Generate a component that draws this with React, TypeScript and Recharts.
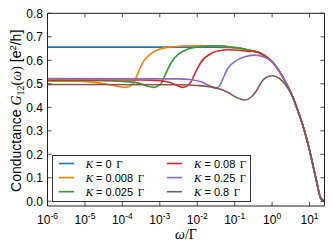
import React from "react";
import { LineChart, Line, XAxis, YAxis, Legend, Label } from "recharts";

// log10(omega / Gamma) on x, conductance G12 in e^2/h on y
const kLabels = ["0", "0.008", "0.025", "0.08", "0.25", "0.8"];
const colors = ["#1f77b4", "#ff7f0e", "#2ca02c", "#d62728", "#9467bd", "#8c564b"];

// common high-frequency roll-off that every curve joins
const envelopeX = [-1, -0.75, -0.5, -0.34, -0.2, 0, 0.2, 0.4, 0.55, 0.7, 0.82, 1.0, 1.17, 1.3, 1.39];
const envelopeG = [0.654, 0.648, 0.639, 0.632, 0.62, 0.595, 0.552, 0.495, 0.445, 0.38, 0.324, 0.218, 0.098, 0.013, 0];

const k0X = [-6, -2, -1.5];
const k0G = [0.656, 0.656, 0.656];

const k008X = [-6, -5.2, -4.8, -4.4, -4.1, -3.93, -3.8, -3.7, -3.57, -3.44, -3.26, -3.0, -2.64, -2.2, -1.6];
const k008G = [0.512, 0.511, 0.507, 0.498, 0.488, 0.485, 0.49, 0.505, 0.551, 0.594, 0.625, 0.648, 0.658, 0.662, 0.662];

const k025X = [-6, -4.5, -4.0, -3.6, -3.35, -3.17, -3.05, -2.95, -2.82, -2.68, -2.51, -2.24, -1.9, -1.4];
const k025G = [0.513, 0.513, 0.51, 0.504, 0.491, 0.485, 0.49, 0.505, 0.551, 0.594, 0.625, 0.648, 0.658, 0.662];

const k08X = [-6, -3.5, -3.0, -2.7, -2.5, -2.39, -2.28, -2.17, -2.04, -1.89, -1.62, -1.4, -1.18, -0.9, -0.6];
const k08G = [0.516, 0.516, 0.513, 0.504, 0.49, 0.485, 0.49, 0.508, 0.551, 0.594, 0.63, 0.641, 0.645, 0.643, 0.638];

const k25X = [-6, -2.5, -2.2, -1.9, -1.7, -1.49, -1.4, -1.31, -1.18, -1.0, -0.73, -0.47, -0.2, 0];
const k25G = [0.522, 0.521, 0.518, 0.509, 0.494, 0.48, 0.492, 0.523, 0.566, 0.594, 0.615, 0.622, 0.613, 0.593];

const k8X = [-6, -2.5, -2, -1.5, -1.2, -0.95, -0.73, -0.55, -0.4, -0.25, -0.1, 0.02, 0.2, 0.37];
const k8G = [0.497, 0.496, 0.493, 0.483, 0.465, 0.442, 0.431, 0.445, 0.475, 0.515, 0.531, 0.534, 0.522, 0.494];

const heads: [number[], number[]][] = [
  [k0X, k0G],
  [k008X, k008G],
  [k025X, k025G],
  [k08X, k08G],
  [k25X, k25G],
  [k8X, k8G],
];

const decades = [-6, -5, -4, -3, -2, -1, 0, 1];
const yTicks = [0, 0.1, 0.2, 0.3, 0.4, 0.5, 0.6, 0.7, 0.8];
const X_MIN = -6;
const X_MAX = 1.4;
const Y_MIN = -0.02;
const Y_MAX = 0.8;

const minorTicks: number[] = [];
decades.forEach((d) => {
  for (let k = 2; k <= 9; k++) {
    const v = d + Math.log10(k);
    if (v < X_MAX) minorTicks.push(v);
  }
});

function buildSeries(xs: number[], gs: number[]) {
  const pts = xs.map((x, i) => ({ x, g: gs[i] }));
  const last = xs[xs.length - 1];
  envelopeX.forEach((x, i) => {
    if (x > last + 0.05) pts.push({ x, g: envelopeG[i] });
  });
  return pts;
}

const W = 332;
const H = 249;
const PLOT_TOP = 13.3;
const PLOT_BOTTOM = 206;
const PLOT_LEFT = 47.5;
const PLOT_RIGHT = 324.5;
const AXIS = "#222";
const SANS = "Liberation Sans, Arial, sans-serif";
const SERIF = "Liberation Serif, Times New Roman, serif";

const XMajorTick = ({ x, payload }: any) => (
  <g>
    <line x1={x} x2={x} y1={PLOT_BOTTOM} y2={PLOT_BOTTOM - 4} stroke={AXIS} strokeWidth={0.8} />
    <line x1={x} x2={x} y1={PLOT_TOP} y2={PLOT_TOP + 4} stroke={AXIS} strokeWidth={0.8} />
    <text x={x} y={PLOT_BOTTOM + 18.3} textAnchor="middle" fontSize={12} fill="#000" fontFamily={SANS}>
      10
      <tspan dy={-5.5} fontSize={8.5}>
        {String(payload.value)}
      </tspan>
    </text>
  </g>
);

const XMinorTick = ({ x }: any) => (
  <g>
    <line x1={x} x2={x} y1={PLOT_BOTTOM} y2={PLOT_BOTTOM - 2} stroke={AXIS} strokeWidth={0.6} />
    <line x1={x} x2={x} y1={PLOT_TOP} y2={PLOT_TOP + 2} stroke={AXIS} strokeWidth={0.6} />
  </g>
);

const YTick = ({ y, payload }: any) => (
  <g>
    <line x1={PLOT_LEFT} x2={PLOT_LEFT + 4} y1={y} y2={y} stroke={AXIS} strokeWidth={0.8} />
    <line x1={PLOT_RIGHT} x2={PLOT_RIGHT - 4} y1={y} y2={y} stroke={AXIS} strokeWidth={0.8} />
    <text x={PLOT_LEFT - 4.5} y={y + 4.2} textAnchor="end" fontSize={12} fill="#000" fontFamily={SANS}>
      {payload.value.toFixed(1)}
    </text>
  </g>
);

const YLabel = () => (
  <text
    transform="translate(20.7, 110.8) rotate(-90)"
    textAnchor="middle"
    fontSize={14}
    fill="#000"
    fontFamily={SANS}
  >
    Conductance{" "}
    <tspan fontFamily={SERIF} fontStyle="italic">G</tspan>
    <tspan fontFamily={SERIF} fontSize={10} dy={3}>12</tspan>
    <tspan fontFamily={SERIF} dy={-3}>(</tspan>
    <tspan fontFamily={SERIF} fontStyle="italic">ω</tspan>
    <tspan fontFamily={SERIF}>)</tspan>
    {" [e"}
    <tspan fontSize={9.5} dy={-5}>2</tspan>
    <tspan dy={5}>/h]</tspan>
  </text>
);

const XLabel = () => (
  <text x={186} y={238.5} textAnchor="middle" fontSize={14} fill="#000" fontFamily={SERIF}>
    <tspan fontStyle="italic">ω</tspan>/Γ
  </text>
);

const LegendBox = ({ payload }: any) => {
  const items = payload ?? [];
  return (
    <svg width={200} height={48} style={{ display: "block", overflow: "visible" }}>
      <rect x={0.5} y={0.5} width={198} height={46} fill="#fff" stroke="#333" strokeWidth={1} />
      {items.map((p: any, i: number) => {
        const col = Math.floor(i / 3);
        const row = i % 3;
        const lx = col === 0 ? 7 : 115;
        const tx = col === 0 ? 33.7 : 142;
        const cy = 8.5 + row * 14.1;
        return (
          <g key={i}>
            <line x1={lx} x2={lx + 15} y1={cy} y2={cy} stroke={p.color} strokeWidth={1.6} />
            <text x={tx} y={cy + 4} fontSize={11} fill="#000" fontFamily={SANS}>
              <tspan fontFamily={SERIF} fontStyle="italic">K</tspan>
              {" = " + p.value + " "}
              <tspan fontFamily={SERIF} dx={1.5}>Γ</tspan>
            </text>
          </g>
        );
      })}
    </svg>
  );
};

export default function App() {
  return (
    <div style={{ position: "absolute", left: 0, top: 0, width: W, height: H, background: "#fff" }}>
      <LineChart
        width={W}
        height={H}
        margin={{ top: PLOT_TOP - 1, right: W - PLOT_RIGHT - 1, bottom: H - PLOT_BOTTOM - 2, left: 0 }}
      >
        <XAxis
          xAxisId="main"
          type="number"
          dataKey="x"
          domain={[X_MIN, X_MAX]}
          allowDataOverflow
          ticks={decades}
          interval={0}
          height={1}
          tickSize={0}
          tickMargin={0}
          tickLine={false}
          axisLine={{ stroke: AXIS, strokeWidth: 1 }}
          tick={<XMajorTick />}
        >
          <Label content={<XLabel />} />
        </XAxis>
        <XAxis
          xAxisId="minor"
          type="number"
          domain={[X_MIN, X_MAX]}
          allowDataOverflow
          ticks={minorTicks}
          interval={0}
          height={1}
          tickSize={0}
          tickMargin={0}
          tickLine={false}
          axisLine={false}
          tick={<XMinorTick />}
        />
        <XAxis
          xAxisId="top"
          orientation="top"
          type="number"
          domain={[X_MIN, X_MAX]}
          allowDataOverflow
          ticks={decades}
          height={1}
          tick={false}
          tickLine={false}
          axisLine={{ stroke: AXIS, strokeWidth: 1 }}
        />
        <YAxis
          yAxisId="main"
          type="number"
          domain={[Y_MIN, Y_MAX]}
          allowDataOverflow
          ticks={yTicks}
          interval={0}
          width={PLOT_LEFT}
          tickSize={0}
          tickMargin={0}
          tickLine={false}
          axisLine={{ stroke: AXIS, strokeWidth: 1 }}
          tick={<YTick />}
        >
          <Label content={<YLabel />} />
        </YAxis>
        <YAxis
          yAxisId="right"
          orientation="right"
          type="number"
          domain={[Y_MIN, Y_MAX]}
          allowDataOverflow
          ticks={yTicks}
          width={1}
          tick={false}
          tickLine={false}
          axisLine={{ stroke: AXIS, strokeWidth: 1 }}
        />
        {heads.map(([xs, gs], i) => (
          <Line
            key={kLabels[i]}
            xAxisId="main"
            yAxisId="main"
            data={buildSeries(xs, gs)}
            dataKey="g"
            name={kLabels[i]}
            type="monotone"
            stroke={colors[i]}
            strokeWidth={1.6}
            dot={false}
            activeDot={false}
            isAnimationActive={false}
          />
        ))}
        <Legend
          layout="vertical"
          align="center"
          verticalAlign="middle"
          content={<LegendBox />}
          wrapperStyle={{ left: 52, top: 155, width: 200, height: 48 }}
        />
      </LineChart>
    </div>
  );
}
